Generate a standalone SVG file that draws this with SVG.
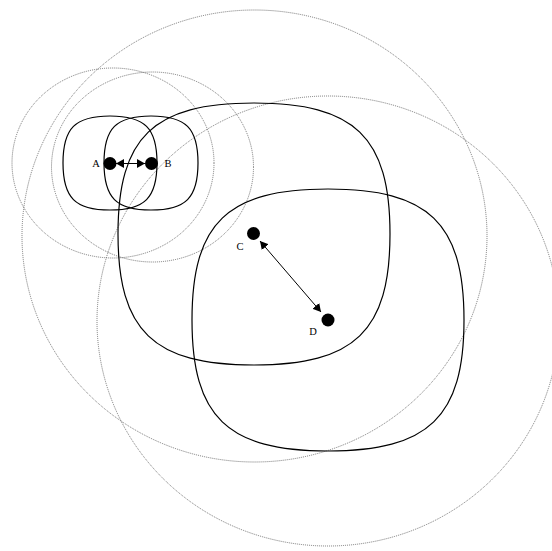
<svg xmlns="http://www.w3.org/2000/svg" width="552" height="551" viewBox="0 0 552 551">
<style>
.halo{fill:none;stroke:#666;stroke-width:0.9;stroke-dasharray:1 1}
.region{fill:none;stroke:#000;stroke-width:1.2}
.dot{fill:#000}
.lbl{font-family:"Liberation Serif","Times New Roman",serif;font-size:10.5px;fill:#000;text-anchor:middle}
.edge{stroke:#000;stroke-width:1;fill:none;marker-start:url(#ah);marker-end:url(#ah)}
</style>
<defs>
<marker id="ah" markerUnits="userSpaceOnUse" viewBox="0 0 8 9" refX="8" refY="4.5" markerWidth="8" markerHeight="9" orient="auto-start-reverse">
<path d="M0,0 L8,4.5 L0,9 z" fill="#000"/>
</marker>
</defs>
<g id="halos">
<ellipse class="halo" cx="113" cy="163" rx="101" ry="95"/>
<ellipse class="halo" cx="152.5" cy="167" rx="101" ry="95"/>
<ellipse class="halo" cx="254.5" cy="236" rx="232.5" ry="226"/>
<ellipse class="halo" cx="328" cy="321" rx="231" ry="225"/>
</g>
<g id="regions">
<path class="region" d="M157,163 C157,197.8 144.8,210 110,210 C75.2,210 63,197.8 63,163 C63,128.2 75.2,116 110,116 C144.8,116 157,128.2 157,163 Z"/>
<path class="region" d="M198,163 C198,197.8 185.8,210 151,210 C116.2,210 104,197.8 104,163 C104,128.2 116.2,116 151,116 C185.8,116 198,128.2 198,163 Z"/>
<path class="region" d="M390,234 C390,331 354.6,365 254,365 C153.4,365 118,331 118,234 C118,137 153.4,103 254,103 C354.6,103 390,137 390,234 Z"/>
<path class="region" d="M464,320 C464,417 428.6,451 328,451 C227.4,451 192,417 192,320 C192,223 227.4,189 328,189 C428.6,189 464,223 464,320 Z"/>
</g>
<g id="connectors">
<line class="edge" x1="116" y1="163.5" x2="145" y2="163.5"/>
<line class="edge" x1="260" y1="241" x2="321" y2="312"/>
</g>
<g id="node-A"><circle class="dot" cx="110" cy="163.5" r="6.5"/><text class="lbl" x="96" y="167">A</text></g>
<g id="node-B"><circle class="dot" cx="151.5" cy="163.5" r="6.5"/><text class="lbl" x="168" y="167">B</text></g>
<g id="node-C"><circle class="dot" cx="253.5" cy="233.5" r="6.5"/><text class="lbl" x="240" y="249.5">C</text></g>
<g id="node-D"><circle class="dot" cx="328" cy="320" r="6.5"/><text class="lbl" x="313" y="335">D</text></g>
</svg>
